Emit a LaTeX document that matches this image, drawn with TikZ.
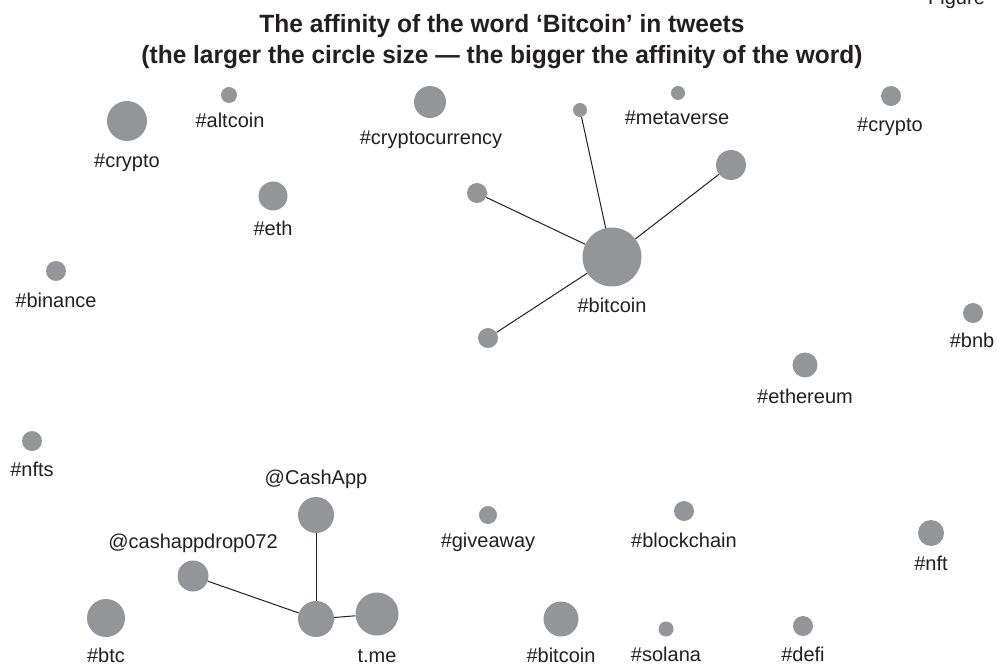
\documentclass[tikz,border=0pt]{standalone}
\usepackage{fontspec}
\setmainfont{Liberation Sans}
\usepackage{graphicx}
\usepackage{tikz}

\definecolor{bubgray}{RGB}{147,149,152}
\definecolor{ink}{RGB}{35,31,32}

\tikzset{
  bub/.style={circle,fill=bubgray,inner sep=0pt,minimum size=#1},
  tag/.style={anchor=base,inner sep=0pt,text=ink,font=\fontsize{20}{24}\selectfont},
  link/.style={ink,line width=1pt},
  headline/.style={anchor=base,inner sep=0pt,text=ink,font=\bfseries\fontsize{25}{30}\selectfont}
}

\begin{document}
\begin{tikzpicture}[x=1pt,y=-1pt]
\useasboundingbox (0,0) rectangle (998,668);

% heading
\node[tag,anchor=base west] (figtag) at (928,5) {Figure};
\node[headline] (head1) at (502,33) {\resizebox{485pt}{\height}{The affinity of the word ‘Bitcoin’ in tweets}};
\node[headline] (head2) at (502,64) {\resizebox{721pt}{\height}{(the larger the circle size — the bigger the affinity of the word)}};

% upper part
\node[bub=40pt] (cryptoA) at (127,121) {};
\node[tag] (lcryptoA) at (127,168) {\#crypto};
\node[bub=16pt] (altcoin) at (229,95) {};
\node[tag] (laltcoin) at (230,128) {\#altcoin};
\node[bub=32pt] (cryptocur) at (430,102) {};
\node[tag] (lcryptocur) at (431,145) {\#cryptocurrency};
\node[bub=14pt] (metaverse) at (678,93) {};
\node[tag] (lmetaverse) at (677,125) {\#metaverse};
\node[bub=20pt] (cryptoB) at (891,96) {};
\node[tag] (lcryptoB) at (890,132) {\#crypto};
\node[bub=29pt] (eth) at (273,196) {};
\node[tag] (leth) at (273,236) {\#eth};
\node[bub=20pt] (binance) at (56,271) {};
\node[tag] (lbinance) at (56,307) {\#binance};
\node[bub=20pt] (bnb) at (973,313) {};
\node[tag] (lbnb) at (972,347) {\#bnb};
\node[bub=25pt] (ethereum) at (805,365) {};
\node[tag] (lethereum) at (805,403) {\#ethereum};
\node[bub=20pt] (nfts) at (32,441) {};
\node[tag] (lnfts) at (32,476) {\#nfts};

% bitcoin cluster
\node[bub=59pt] (bitcoinA) at (612,257) {};
\node[tag] (lbitcoinA) at (612,312) {\#bitcoin};
\node[bub=14pt] (bcA) at (580,110) {};
\node[bub=20pt] (bcB) at (477,193) {};
\node[bub=30pt] (bcC) at (731,165) {};
\node[bub=20pt] (bcD) at (488,338) {};
\draw[link] (bitcoinA) -- (bcA);
\draw[link] (bitcoinA) -- (bcB);
\draw[link] (bitcoinA) -- (bcC);
\draw[link] (bitcoinA) -- (bcD);

% lower part
\node[bub=18pt] (giveaway) at (488,515) {};
\node[tag] (lgiveaway) at (488,547) {\#giveaway};
\node[bub=20pt] (blockchain) at (684,511) {};
\node[tag] (lblockchain) at (684,547) {\#blockchain};
\node[bub=26pt] (nft) at (931,533) {};
\node[tag] (lnft) at (931,570) {\#nft};
\node[bub=38pt] (btc) at (106,618) {};
\node[tag] (lbtc) at (106,662) {\#btc};
\node[bub=35pt] (bitcoinB) at (561,619) {};
\node[tag] (lbitcoinB) at (561,662) {\#bitcoin};
\node[bub=15pt] (solana) at (666,629) {};
\node[tag] (lsolana) at (666,661) {\#solana};
\node[bub=20pt] (defi) at (803,626) {};
\node[tag] (ldefi) at (803,661) {\#defi};

% cashapp cluster
\node[bub=36pt] (hub) at (316,619) {};
\node[bub=36pt] (cashapp) at (316,515) {};
\node[tag] (lcashapp) at (316,484) {@CashApp};
\node[bub=31pt] (cashdrop) at (193,576) {};
\node[tag] (lcashdrop) at (193,548) {@cashappdrop072};
\node[bub=43pt] (tme) at (377,614) {};
\node[tag] (ltme) at (377,662) {t.me};
\draw[link] (hub) -- (cashapp);
\draw[link] (hub) -- (cashdrop);
\draw[link] (hub) -- (tme);
\end{tikzpicture}
\end{document}
